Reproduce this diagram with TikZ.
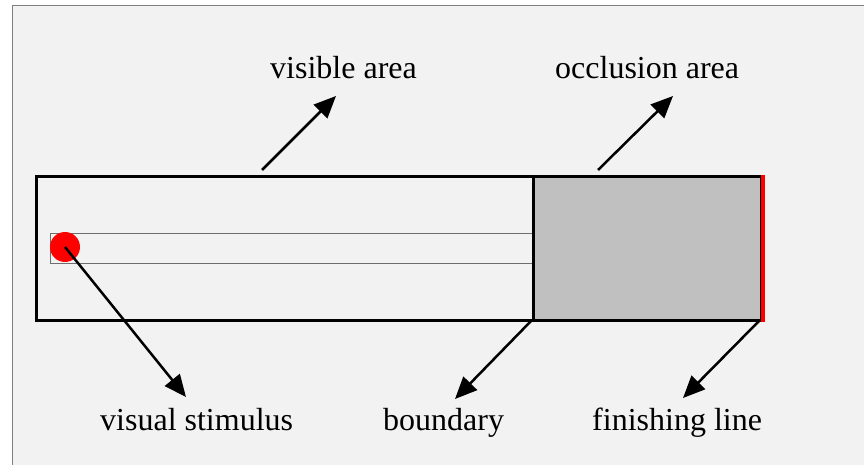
\documentclass[tikz,border=0pt]{standalone}
\usepackage{fontspec}
\setmainfont{Liberation Serif}
\usetikzlibrary{arrows.meta}
\definecolor{bgpanel}{HTML}{F2F2F2}
\definecolor{occl}{HTML}{C0C0C0}
\definecolor{framegray}{HTML}{7F7F7F}
\definecolor{trackgray}{HTML}{6E6E6E}
\begin{document}
\begin{tikzpicture}[x=1pt,y=-1pt,
  lbl/.style={anchor=base west, inner sep=0pt, font=\fontsize{32}{38}\selectfont},
  pointer/.style={line width=2.5pt, -{Triangle[length=22pt,width=19pt]}},
  boxstyle/.style={draw=black, line width=3pt, anchor=north west, inner sep=0pt}]
\useasboundingbox (0,0) rectangle (864,465);
\fill[white] (0,0) rectangle (864,465);
\fill[bgpanel] (12.5,5.5) rectangle (864,465);
\draw[framegray, line width=1.5pt] (12.5,465) -- (12.5,5.5) -- (864,5.5);

% visible area
\node (visible) [boxstyle, minimum width=497.5pt, minimum height=143.5pt] at (34.5,175.5) {};
% track
\node (track) [draw=trackgray, line width=0.8pt, anchor=north west, inner sep=0pt,
  minimum width=482pt, minimum height=30pt] at (50,232.5) {};
% occlusion area
\node (occlusion) [boxstyle, fill=occl, minimum width=228pt, minimum height=143.5pt] at (532,175.5) {};
% finishing line
\draw[red, line width=4.5pt] (occlusion.north east) -- (occlusion.south east);
\coordinate (finish) at (760,320);
% stimulus
\node (stim) [circle, fill=red, inner sep=0pt, minimum size=30pt] at (65,247) {};

% labels
\node (lvis) [lbl] at (270,79) {visible area};
\node (locc) [lbl] at (555,79) {occlusion area};
\node (lstim) [lbl] at (100,430) {visual stimulus};
\node (lbound) [lbl] at (383,430) {boundary};
\node (lfin) [lbl] at (592,430) {finishing line};

% arrow endpoints
\coordinate (s1) at (262,170);
\coordinate (t1) at (336,96);
\coordinate (s2) at (598,170);
\coordinate (t2) at (673,96);
\coordinate (t3) at (186,397);
\coordinate (s4) at (532,320);
\coordinate (t4) at (455,399);
\coordinate (t5) at (683,398);

\draw[pointer] (s1) -- (t1);
\draw[pointer] (s2) -- (t2);
\draw[pointer] (stim.center) -- (t3);
\draw[pointer] (s4) -- (t4);
\draw[pointer] (finish) -- (t5);
\end{tikzpicture}
\end{document}
